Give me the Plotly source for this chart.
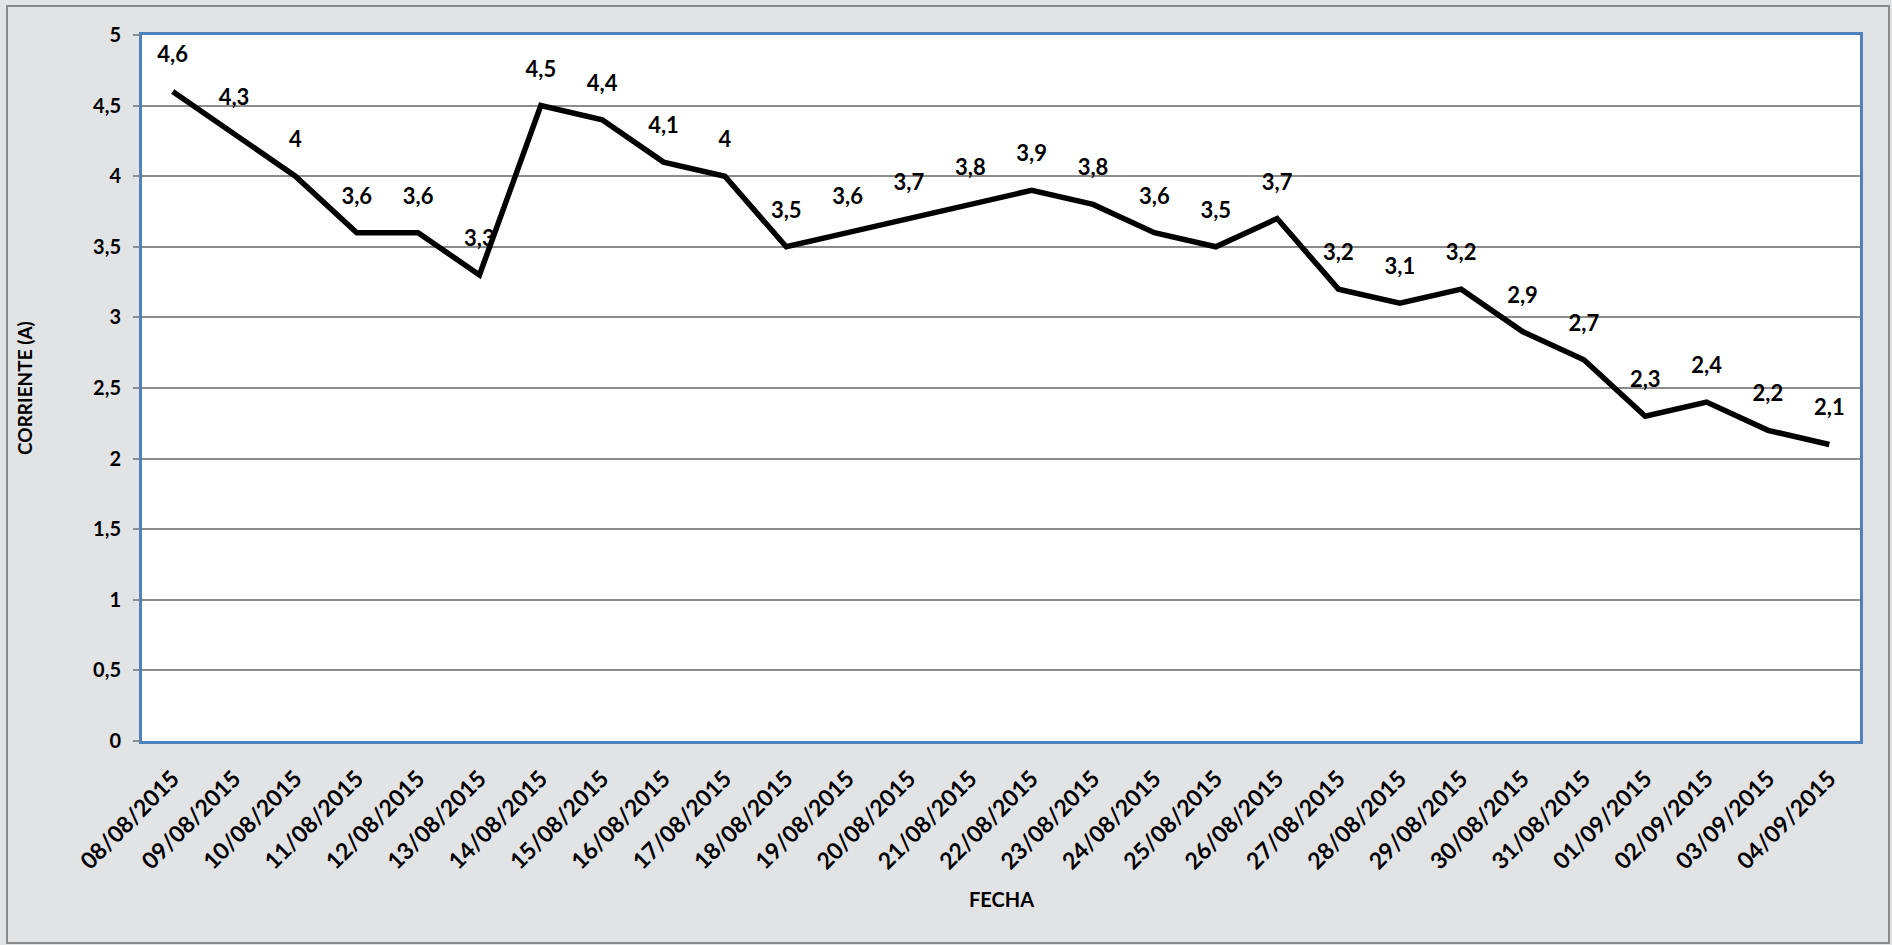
import plotly.graph_objects as go

# Daily current readings
fechas = [
    "08/08/2015", "09/08/2015", "10/08/2015", "11/08/2015", "12/08/2015",
    "13/08/2015", "14/08/2015", "15/08/2015", "16/08/2015", "17/08/2015",
    "18/08/2015", "19/08/2015", "20/08/2015", "21/08/2015", "22/08/2015",
    "23/08/2015", "24/08/2015", "25/08/2015", "26/08/2015", "27/08/2015",
    "28/08/2015", "29/08/2015", "30/08/2015", "31/08/2015", "01/09/2015",
    "02/09/2015", "03/09/2015", "04/09/2015",
]
corriente = [
    4.6, 4.3, 4.0, 3.6, 3.6, 3.3, 4.5, 4.4, 4.1, 4.0,
    3.5, 3.6, 3.7, 3.8, 3.9, 3.8, 3.6, 3.5, 3.7, 3.2,
    3.1, 3.2, 2.9, 2.7, 2.3, 2.4, 2.2, 2.1,
]
y_ticks = [0, 0.5, 1, 1.5, 2, 2.5, 3, 3.5, 4, 4.5, 5]

etiquetas = [f"{v:g}".replace(".", ",") for v in corriente]

W, H = 1892, 945
L, R, T, B = 142, 32, 35, 204
pw, ph = W - L - R, H - T - B

FONT = "Lato"
fnt_val = dict(family=FONT, size=22, color="#000000")
fnt_x = dict(family=FONT, size=23, color="#000000")
fnt_y = dict(family=FONT, size=20, color="#000000")

fig = go.Figure()

# Main line
fig.add_trace(go.Scatter(
    x=fechas, y=corriente, mode="lines",
    line=dict(color="#000000", width=5.5),
    hoverinfo="skip", showlegend=False,
))

# Value labels above each point (transparent marker sets the offset)
fig.add_trace(go.Scatter(
    x=fechas, y=corriente, mode="markers+text",
    text=[f"<b>{t}</b>" for t in etiquetas],
    textposition="top center",
    textfont=fnt_val,
    marker=dict(size=36, color="rgba(0,0,0,0)"),
    hoverinfo="skip", showlegend=False,
))

def px_x(p):
    return (p - L) / pw

def px_y(p):
    return (H - B - p) / ph

fig.update_layout(
    width=W, height=H,
    margin=dict(l=L, r=R, t=T, b=B, pad=0),
    paper_bgcolor="#e2e3e5",
    plot_bgcolor="#ffffff",
    separators=",.",
    font=fnt_y,
    showlegend=False,
    xaxis=dict(
        type="category",
        tickmode="array", tickvals=fechas,
        ticktext=[f"<b>{f}</b>" for f in fechas],
        tickangle=-45,
        tickfont=fnt_x,
        showgrid=False,
        showline=True, linecolor="#4f81bd", linewidth=3, mirror=True,
        ticks="", ticklabelstandoff=12,
        range=[-0.5, len(fechas) - 0.5],
        zeroline=False,
    ),
    yaxis=dict(
        range=[0, 5],
        tickmode="array", tickvals=y_ticks,
        ticktext=[f"<b>{f'{v:g}'.replace('.', ',')}</b>" for v in y_ticks],
        tickfont=fnt_y,
        showgrid=True, gridcolor="#8c8c8c", gridwidth=1.5,
        showline=True, linecolor="#4f81bd", linewidth=3, mirror=True,
        ticks="outside", ticklen=6, tickcolor="#8c8c8c", tickwidth=1.5,
        ticklabelstandoff=8,
        zeroline=False,
    ),
    shapes=[
        # outer chart frame
        dict(type="rect", xref="paper", yref="paper",
             x0=px_x(7), x1=px_x(1889), y0=px_y(943), y1=px_y(6),
             line=dict(color="#8a8a8a", width=2), fillcolor="rgba(0,0,0,0)",
             layer="below"),
    ],
    annotations=[
        dict(text="<b>CORRIENTE (A)</b>", textangle=-90,
             xref="paper", yref="paper", x=px_x(24), y=0.5,
             xanchor="center", yanchor="middle",
             showarrow=False, font=dict(family=FONT, size=19, color="#000")),
        dict(text="<b>FECHA</b>",
             xref="paper", yref="paper", x=0.5, y=px_y(899),
             xanchor="center", yanchor="middle",
             showarrow=False, font=dict(family=FONT, size=20, color="#000")),
    ],
)

fig.write_html("out.html")
